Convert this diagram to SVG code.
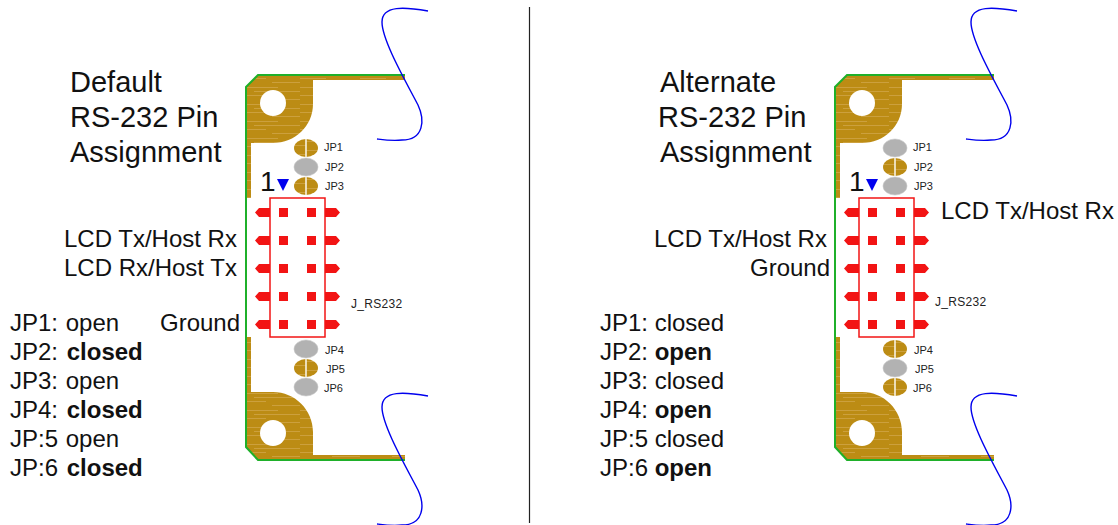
<svg xmlns="http://www.w3.org/2000/svg" width="1118" height="525" viewBox="0 0 1118 525">
<style>
text{font-family:"Liberation Sans",Arial,sans-serif;fill:#111}
.t{font-size:29px}.l{font-size:24px}.j{font-size:11px;fill:#222}.r{font-size:12px;letter-spacing:.3px;fill:#222}.n{font-size:28px}
.b{font-weight:bold}
.gold{fill:url(#wood)}.grn{fill:none;stroke:#1fb02a;stroke-width:2}
.blue{fill:none;stroke:#0000ee;stroke-width:1.4}
.gray{fill:#b2b2b2;stroke:#c8c8c8;stroke-width:.6}
.gap{stroke:#f8f2e0;stroke-width:1.6}
.hdr{fill:#fff;stroke:#f21414;stroke-width:1.5}
.pad{fill:#f21414}
</style>
<defs>
<pattern id="wood" width="60" height="17" patternUnits="userSpaceOnUse">
<rect width="60" height="17" fill="#bc8c14"/>
<path d="M0,2.500H38M14,6.500H60M0,10.500H26M32,14.500H60" stroke="#d0a548" stroke-width=".8" fill="none"/>
</pattern>
<g id="row"><rect class="pad" x="279" y="208" width="9" height="9"/><rect class="pad" x="307" y="208" width="9" height="9"/><path class="pad" d="M270,208H259L255,212.500L259,217H270ZM325,208H336L340,212.500L336,217H325Z"/></g>
<g id="board">
<path class="gold" d="M246,87L258,75H405V80H313V104C313,126 295,143 273,143H251V198H246ZM246,337H251V392H273C295,392 313,410 313,432V455H405V460H258L246,447Z"/>
<circle cx="273" cy="103" r="13" fill="#fff"/><circle cx="273" cy="433" r="13" fill="#fff"/>
<path class="grn" d="M405,75H258L246,87V447L258,460H405"/>
<path class="blue" d="M428,11C405,7 382,5 382,22C382,40 405,80 418,105C425,120 424,140 402,140C392,141 385,140 377,139"/>
<path class="blue" d="M428,396C405,392 382,390 382,407C382,425 405,465 418,490C425,505 424,525 402,525C392,526 385,525 377,524"/>
<path fill="#0000ee" d="M277,179H289L283,191Z"/>
<rect class="hdr" x="270" y="198" width="55" height="139"/>
<use href="#row"/><use href="#row" y="28"/><use href="#row" y="56"/><use href="#row" y="84"/><use href="#row" y="112"/>
<text class="n" x="260" y="191">1</text>
<text class="j" x="324" y="151">JP1</text><text class="j" x="325" y="171">JP2</text><text class="j" x="325" y="190">JP3</text>
<text class="j" x="325" y="354">JP4</text><text class="j" x="326" y="373">JP5</text><text class="j" x="324" y="392">JP6</text>
</g>
<g id="on"><ellipse class="gold" cx="0" cy="0" rx="12" ry="9"/><path class="gap" d="M0,-9V9"/></g>
<ellipse id="off" class="gray" cx="0" cy="0" rx="12" ry="9"/>
</defs>
<g id="connectors"><path d="M529.500,7V523" stroke="#222" stroke-width="1.2" fill="none"/></g>
<g id="left-board"><use href="#board"/>
<use href="#on" x="306" y="148"/><use href="#off" x="306" y="167"/><use href="#on" x="306" y="186"/>
<use href="#off" x="306" y="349"/><use href="#on" x="306" y="368"/><use href="#off" x="306" y="387"/>
<text class="r" x="351" y="308">J_RS232</text>
</g>
<g id="right-board"><use href="#board" x="589"/>
<use href="#off" x="895" y="148"/><use href="#on" x="895" y="167"/><use href="#off" x="895" y="186"/>
<use href="#on" x="895" y="349"/><use href="#off" x="895" y="368"/><use href="#on" x="895" y="387"/>
<text class="r" x="935" y="306">J_RS232</text>
</g>
<g id="left-text">
<text class="t" x="70" y="92">Default</text><text class="t" x="70" y="127">RS-232 Pin</text><text class="t" x="70" y="162">Assignment</text>
<text class="l" x="64" y="247">LCD Tx/Host Rx</text><text class="l" x="64" y="276">LCD Rx/Host Tx</text><text class="l" x="160" y="331">Ground</text>
<text class="l" x="10" y="331">JP1: <tspan dx="1">open</tspan></text><text class="l" x="10" y="360">JP2: <tspan class="b" dx="2">closed</tspan></text>
<text class="l" x="10" y="389">JP3: <tspan dx="1">open</tspan></text><text class="l" x="10" y="418">JP4: <tspan class="b" dx="2">closed</tspan></text>
<text class="l" x="10" y="447">JP:5 <tspan dx="1">open</tspan></text><text class="l" x="10" y="476">JP:6 <tspan class="b" dx="2">closed</tspan></text>
</g>
<g id="right-text">
<text class="t" x="660" y="92">Alternate</text><text class="t" x="658" y="127">RS-232 Pin</text><text class="t" x="660" y="162">Assignment</text>
<text class="l" x="941" y="219">LCD Tx/Host Rx</text><text class="l" x="654" y="247">LCD Tx/Host Rx</text><text class="l" x="750" y="276">Ground</text>
<text class="l" x="600" y="331">JP1: closed</text><text class="l" x="600" y="360">JP2: <tspan class="b">open</tspan></text>
<text class="l" x="600" y="389">JP3: closed</text><text class="l" x="600" y="418">JP4: <tspan class="b">open</tspan></text>
<text class="l" x="600" y="447">JP:5 closed</text><text class="l" x="600" y="476">JP:6 <tspan class="b">open</tspan></text>
</g>
</svg>
